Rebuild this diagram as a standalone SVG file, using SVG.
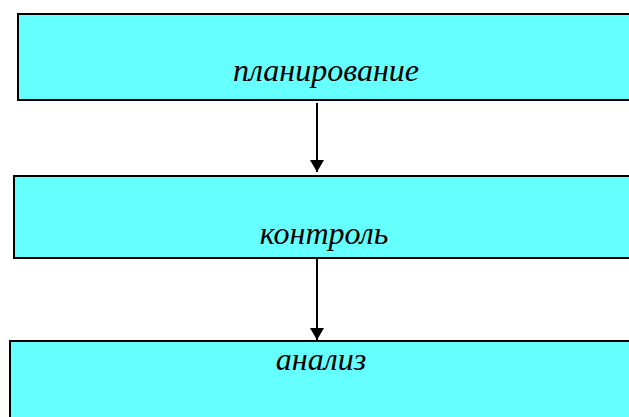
<svg xmlns="http://www.w3.org/2000/svg" width="629" height="417" viewBox="0 0 629 417">
<style>
.box{fill:#66FFFF;stroke:#000;stroke-width:2}
.lbl{font-family:"Liberation Serif","Times New Roman",serif;font-style:italic;font-size:32px;fill:#000;text-anchor:middle}
.conn{stroke:#000;stroke-width:2;fill:none;marker-end:url(#ah)}
</style>
<defs>
<marker id="ah" viewBox="0 0 12 14" refX="12" refY="7" markerWidth="12" markerHeight="14" markerUnits="userSpaceOnUse" orient="auto">
<path d="M0,0 L12,7 L0,14 Z" fill="#000"/>
</marker>
</defs>
<g id="planning">
<rect class="box" x="18" y="14" width="620" height="86"/>
<text class="lbl" x="326" y="81">планирование</text>
</g>
<g id="control">
<rect class="box" x="14" y="176" width="624" height="82"/>
<text class="lbl" x="324" y="244">контроль</text>
</g>
<g id="analysis">
<rect class="box" x="10" y="341" width="628" height="90"/>
<text class="lbl" x="321" y="370">анализ</text>
</g>
<g id="connectors">
<line class="conn" x1="317" y1="103" x2="317" y2="172"/>
<line class="conn" x1="317" y1="259" x2="317" y2="340"/>
</g>
</svg>
